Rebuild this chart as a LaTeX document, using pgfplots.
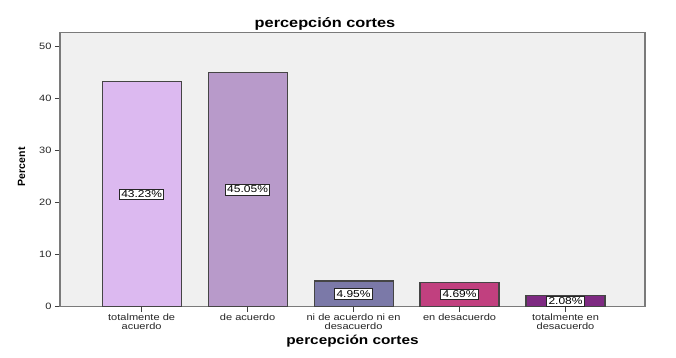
\documentclass[border=0pt]{standalone}
\usepackage{fontspec}
\setmainfont{Liberation Sans}[FakeStretch=1.2]
\newfontfamily\plainsans{Liberation Sans}
\usepackage{pgfplots}
\pgfplotsset{compat=1.18}
\usepackage{pgfplotstable}
\definecolor{bgc}{HTML}{F0F0F0}
\definecolor{frame}{HTML}{7A7A7A}
\definecolor{edge}{HTML}{454545}
\definecolor{cA}{HTML}{DCB9F0}
\definecolor{cB}{HTML}{B89ACA}
\definecolor{cC}{HTML}{7B79A8}
\definecolor{cD}{HTML}{C1407F}
\definecolor{cE}{HTML}{7E2A82}
\pgfplotstableread{
x y
0 43.23
1 45.05
2 4.95
3 4.69
4 2.08
}\data
\begin{document}
\begin{tikzpicture}
\begin{axis}[
  at={(0pt,0pt)}, anchor=south west,
  width=585pt, height=274.4pt, scale only axis,
  xmin=-0.77, xmax=4.75, ymin=0, ymax=52.75,
  axis background/.style={fill=bgc},
  axis line style={frame, line width=1.2pt},
  tick pos=left, tick align=outside,
  major tick length=5pt,
  tick style={black!75, line width=0.8pt},
  ytick={0,10,20,30,40,50},
  xtick={0,1,2,3,4},
  xticklabels={totalmente de\\acuerdo, de acuerdo, ni de acuerdo ni en\\desacuerdo, en desacuerdo, totalmente en\\desacuerdo},
  xticklabel style={align=center, font=\fontsize{9.2}{8.6}\selectfont, text=black!85, yshift=1.5pt},
  yticklabel style={font=\fontsize{9.2}{10}\selectfont, text=black!85},
  /pgf/number format/assume math mode=true,
  every axis title shift=0pt,
  title={percepción cortes},
  title style={font=\fontsize{13.6}{15}\selectfont\bfseries, at={(axis description cs:0.453,1)}, anchor=base, yshift=5pt, inner sep=0pt},
  xlabel={percepción cortes},
  xlabel style={font=\fontsize{12.8}{14}\selectfont\bfseries, at={(axis description cs:0.5,0)}, anchor=base, yshift=-37.3pt, inner sep=0pt},
  ylabel={Percent},
  ylabel style={font=\plainsans\fontsize{10.5}{11}\selectfont\bfseries, at={(axis description cs:-0.0655,0.51)}, anchor=center, inner sep=0pt},
  every axis plot/.append style={ybar, bar width=79pt, bar shift=0pt, draw=edge, line width=1.1pt},
]
\addplot[fill=cA] coordinates {(0,43.23)};
\addplot[fill=cB] coordinates {(1,45.05)};
\addplot[fill=cC] coordinates {(2,4.95)};
\addplot[fill=cD] coordinates {(3,4.69)};
\addplot[fill=cE] coordinates {(4,2.08)};
\addplot[draw=none, fill=none, ybar=0pt, bar width=0pt, point meta=explicit,
  nodes near coords={\pgfmathprintnumber[fixed,precision=2,fixed zerofill]{\pgfplotspointmeta}\%},
  every node near coord/.style={anchor=center, fill=white, draw=black!85, line width=0.7pt, inner xsep=1.8pt, inner ysep=1.8pt, font=\fontsize{10}{11}\selectfont, text=black}]
  table[x=x, y expr=\thisrow{y}/2, meta=y] {\data};
\end{axis}
\pgfresetboundingbox
\useasboundingbox (-60pt,-50.3pt) rectangle (616pt,306.7pt);
\end{tikzpicture}
\end{document}
